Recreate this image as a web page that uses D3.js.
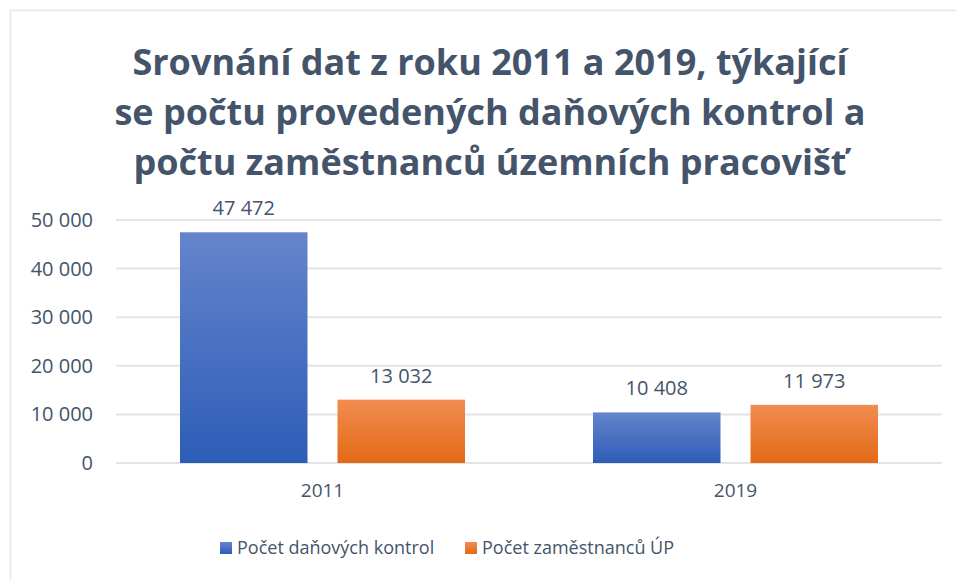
<!DOCTYPE html>
<html>
<head>
<meta charset="utf-8">
<script src="https://d3js.org/d3.v7.min.js"></script>
<style>
  body { margin: 0; background: #fff; }
  text { font-family: "Open Sans", sans-serif; }
</style>
</head>
<body>
<div id="chart"></div>
<script>
// Data
var years = ["2011", "2019"];
var seriesNames = ["Počet daňových kontrol", "Počet zaměstnanců ÚP"];
var kontroly = [47472, 10408];
var zamestnanci = [13032, 11973];
var yTicks = [0, 10000, 20000, 30000, 40000, 50000];
var titleLines = [
  "Srovnání dat z roku 2011 a 2019, týkající",
  "se počtu provedených daňových kontrol a",
  "počtu zaměstnanců územních pracovišť"
];

var w = 956, h = 580;
var margin = {top: 220, right: 14, bottom: 117, left: 116};
var width = w - margin.left - margin.right;
var height = h - margin.top - margin.bottom;
var textColor = "#44546A";
var colors = [["#6584CC", "#2D5DB7"], ["#F18C50", "#E36A16"]];

var fmt = d3.formatLocale({decimal: ",", thousands: " ", grouping: [3], currency: ["", ""]}).format(",d");

var svg = d3.select("#chart").append("svg")
  .attr("width", w)
  .attr("height", h);

// Card border
svg.append("rect")
  .attr("x", 10.5).attr("y", 10.5)
  .attr("width", w).attr("height", h)
  .attr("fill", "#fff")
  .attr("stroke", "#E4E7ED")
  .attr("stroke-width", 1.5);

// Gradients
var defs = svg.append("defs");
colors.forEach(function(c, i) {
  var g = defs.append("linearGradient").attr("id", "grad" + i)
    .attr("x1", 0).attr("y1", 0).attr("x2", 0).attr("y2", 1);
  g.append("stop").attr("offset", "0%").attr("stop-color", c[0]);
  g.append("stop").attr("offset", "100%").attr("stop-color", c[1]);
});

// Title
svg.append("text")
  .attr("text-anchor", "middle")
  .attr("font-size", "36px")
  .attr("font-weight", 700)
  .attr("fill", textColor)
  .selectAll("tspan").data(titleLines).enter().append("tspan")
    .attr("x", 490)
    .attr("y", function(d, i) { return 75 + i * 50; })
    .text(function(d) { return d; });

var chart = svg.append("g")
  .attr("transform", "translate(" + margin.left + "," + margin.top + ")");

// Scales
var xScale = d3.scaleBand().domain(years).range([0, width]);
var xInner = d3.scaleBand().domain([0, 1]).range([64, xScale.bandwidth() - 64]).paddingInner(30 / 157.5);
var yScale = d3.scaleLinear().domain([0, 50000]).range([height, 0]);

// Gridlines
chart.selectAll(".grid").data(yTicks).enter().append("line")
  .attr("x1", 0).attr("x2", width)
  .attr("y1", function(d) { return yScale(d); })
  .attr("y2", function(d) { return yScale(d); })
  .attr("stroke", "#E2E4E9")
  .attr("stroke-width", 2);

// Y axis labels
var yAxis = d3.axisLeft(yScale).tickValues(yTicks).tickFormat(fmt).tickSize(0).tickPadding(23);
chart.append("g").call(yAxis)
  .call(function(g) { g.select(".domain").remove(); })
  .selectAll("text")
  .attr("font-size", "20px")
  .attr("fill", textColor)
  .style("font-family", "Open Sans");

// X axis labels
var xAxis = d3.axisBottom(xScale).tickSize(0).tickPadding(21);
chart.append("g")
  .attr("transform", "translate(0," + height + ")")
  .call(xAxis)
  .call(function(g) { g.select(".domain").remove(); })
  .selectAll("text")
  .attr("font-size", "19px")
  .attr("fill", textColor)
  .style("font-family", "Open Sans");

// Bars
var series = [kontroly, zamestnanci];
series.forEach(function(values, s) {
  var bars = chart.append("g");
  bars.selectAll("rect").data(values).enter().append("rect")
    .attr("x", function(d, i) { return xScale(years[i]) + xInner(s); })
    .attr("y", function(d) { return yScale(d); })
    .attr("width", xInner.bandwidth())
    .attr("height", function(d) { return height - yScale(d); })
    .attr("fill", "url(#grad" + s + ")");
  bars.selectAll("text").data(values).enter().append("text")
    .attr("x", function(d, i) { return xScale(years[i]) + xInner(s) + xInner.bandwidth() / 2; })
    .attr("y", function(d) { return yScale(d) - 17; })
    .attr("text-anchor", "middle")
    .attr("font-size", "20px")
    .attr("fill", textColor)
    .text(function(d) { return fmt(d); });
});

// Legend
var legendX = [220, 465];
var legend = svg.selectAll(".legend").data(seriesNames).enter().append("g")
  .attr("transform", function(d, i) { return "translate(" + legendX[i] + ",542)"; });
legend.append("rect")
  .attr("width", 12).attr("height", 12)
  .attr("fill", function(d, i) { return "url(#grad" + i + ")"; });
legend.append("text")
  .attr("x", 17).attr("y", 12)
  .attr("font-size", "18px")
  .attr("fill", textColor)
  .text(function(d) { return d; });
</script>
</body>
</html>
